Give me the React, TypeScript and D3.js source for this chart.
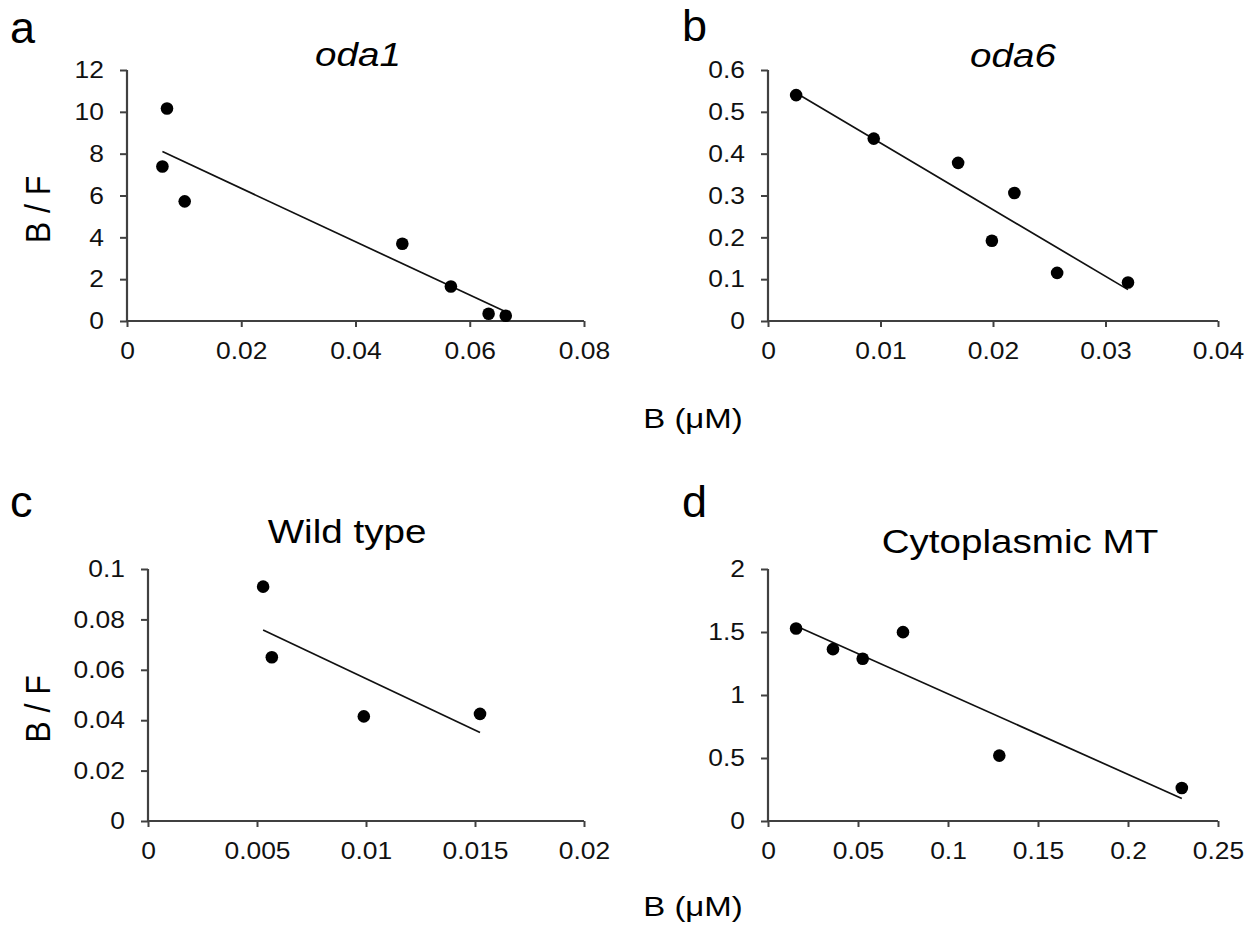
import React, { useEffect, useRef } from 'react';
import * as d3 from 'd3';

// panel a: oda1
const aX = [0.0062, 0.0070, 0.0101, 0.0482, 0.0567, 0.0633, 0.0663];
const aY = [7.39, 10.16, 5.72, 3.69, 1.65, 0.35, 0.25];
const aFit = [[0.0062, 8.1], [0.0662, 0.45]];
const aXTicks = [0, 0.02, 0.04, 0.06, 0.08];
const aYTicks = [0, 2, 4, 6, 8, 10, 12];

// panel b: oda6
const bX = [0.0025, 0.0094, 0.0169, 0.0219, 0.0199, 0.0257, 0.0320];
const bY = [0.540, 0.436, 0.378, 0.306, 0.192, 0.115, 0.092];
const bFit = [[0.0025, 0.545], [0.0320, 0.075]];
const bXTicks = [0, 0.01, 0.02, 0.03, 0.04];
const bYTicks = [0, 0.1, 0.2, 0.3, 0.4, 0.5, 0.6];

// panel c: wild type
const cX = [0.00528, 0.00568, 0.0099, 0.01523];
const cY = [0.093, 0.065, 0.0415, 0.0425];
const cFit = [[0.00528, 0.0758], [0.01523, 0.0351]];
const cXTicks = [0, 0.005, 0.01, 0.015, 0.02];
const cYTicks = [0, 0.02, 0.04, 0.06, 0.08, 0.1];

// panel d: cytoplasmic MT
const dX = [0.0156, 0.0361, 0.0526, 0.0750, 0.1285, 0.2299];
const dY = [1.528, 1.364, 1.288, 1.499, 0.519, 0.262];
const dFit = [[0.0156, 1.548], [0.2299, 0.179]];
const dXTicks = [0, 0.05, 0.1, 0.15, 0.2, 0.25];
const dYTicks = [0, 0.5, 1, 1.5, 2];

const FONT = 'Liberation Sans, Arial, sans-serif';
const AXIS_COLOR = '#404040';

interface PanelSpec {
  letter: string;
  letterX: number;
  letterY: number;
  title: string;
  italic: boolean;
  titleX: number;
  titleY: number;
  left: number;
  right: number;
  top: number;
  bottom: number;
  xs: number[];
  ys: number[];
  fit: number[][];
  xTicks: number[];
  yTicks: number[];
  yLabel: boolean;
  yLabelX: number;
}

const panels: PanelSpec[] = [
  { letter: 'a', letterX: 10, letterY: 43, title: 'oda1', italic: true, titleX: 358, titleY: 66,
    left: 127, right: 584, top: 70, bottom: 321, xs: aX, ys: aY, fit: aFit, xTicks: aXTicks, yTicks: aYTicks,
    yLabel: true, yLabelX: 50 },
  { letter: 'b', letterX: 682, letterY: 41, title: 'oda6', italic: true, titleX: 1013, titleY: 67,
    left: 768, right: 1218, top: 70, bottom: 321, xs: bX, ys: bY, fit: bFit, xTicks: bXTicks, yTicks: bYTicks,
    yLabel: false, yLabelX: 0 },
  { letter: 'c', letterX: 10, letterY: 517, title: 'Wild type', italic: false, titleX: 347, titleY: 543,
    left: 148, right: 584, top: 569, bottom: 821, xs: cX, ys: cY, fit: cFit, xTicks: cXTicks, yTicks: cYTicks,
    yLabel: true, yLabelX: 50 },
  { letter: 'd', letterX: 682, letterY: 517, title: 'Cytoplasmic MT', italic: false, titleX: 1020, titleY: 553,
    left: 768, right: 1218, top: 569, bottom: 821, xs: dX, ys: dY, fit: dFit, xTicks: dXTicks, yTicks: dYTicks,
    yLabel: false, yLabelX: 0 },
];

const fmt = (v: number) => String(+v.toFixed(4));

function drawPanel(svg: d3.Selection<SVGSVGElement, unknown, null, undefined>, p: PanelSpec) {
  const x = d3.scaleLinear()
    .domain([p.xTicks[0], p.xTicks[p.xTicks.length - 1]])
    .range([p.left, p.right]);
  const y = d3.scaleLinear()
    .domain([p.yTicks[0], p.yTicks[p.yTicks.length - 1]])
    .range([p.bottom, p.top]);

  const g = svg.append('g');

  // axes
  const yAxis = g.append('g')
    .attr('transform', `translate(${p.left},0)`)
    .call(d3.axisLeft(y).tickValues(p.yTicks).tickFormat(d => fmt(+d)).tickSize(7).tickPadding(14));
  const xAxis = g.append('g')
    .attr('transform', `translate(0,${p.bottom})`)
    .call(d3.axisBottom(x).tickValues(p.xTicks).tickFormat(d => fmt(+d)).tickSize(6).tickPadding(15));

  [yAxis, xAxis].forEach(ax => {
    ax.select('.domain').attr('stroke', AXIS_COLOR).attr('stroke-width', 2.2);
    ax.selectAll('.tick line').attr('stroke', AXIS_COLOR).attr('stroke-width', 2);
    ax.selectAll('.tick text')
      .attr('fill', '#111')
      .style('font-family', FONT)
      .style('font-size', '24px');
  });
  // plain axis lines, no outer end caps
  yAxis.select('.domain').attr('d', `M0,${p.bottom}V${p.top}`);
  xAxis.select('.domain').attr('d', `M${p.left},0H${p.right}`);
  xAxis.selectAll('.tick text').attr('transform', 'scale(1.1,1)');
  yAxis.selectAll('.tick text').attr('transform', 'scale(1.1,1)');

  // trend line
  g.append('path')
    .attr('d', d3.line<number[]>().x(d => x(d[0])).y(d => y(d[1]))(p.fit) || '')
    .attr('fill', 'none')
    .attr('stroke', '#111')
    .attr('stroke-width', 1.7);

  // points
  g.selectAll('circle.pt')
    .data(p.xs.map((v, i) => [v, p.ys[i]]))
    .enter().append('circle')
    .attr('class', 'pt')
    .attr('cx', d => x(d[0]))
    .attr('cy', d => y(d[1]))
    .attr('r', 6.3)
    .attr('fill', '#000');

  // title
  g.append('text')
    .attr('transform', `translate(${p.titleX},${p.titleY}) scale(1.17,1)`)
    .attr('text-anchor', 'middle')
    .style('font-family', FONT)
    .style('font-size', '33px')
    .style('font-style', p.italic ? 'italic' : 'normal')
    .attr('fill', '#000')
    .text(p.title);

  // panel letter
  g.append('text')
    .attr('x', p.letterX)
    .attr('y', p.letterY)
    .style('font-family', FONT)
    .style('font-size', '45px')
    .attr('fill', '#000')
    .text(p.letter);

  if (p.yLabel) {
    g.append('text')
      .attr('transform', `translate(${p.yLabelX},${(p.top + p.bottom) / 2 + 14}) rotate(-90) scale(1,1.1)`)
      .attr('text-anchor', 'middle')
      .style('font-family', FONT)
      .style('font-size', '32px')
      .attr('fill', '#000')
      .text('B / F');
  }
}

export default function App() {
  const svgRef = useRef<SVGSVGElement>(null);

  useEffect(() => {
    if (!svgRef.current) return;
    const svg = d3.select(svgRef.current);
    svg.selectAll('*').remove();

    svg.append('rect').attr('width', 1258).attr('height', 940).attr('fill', '#fff');

    panels.forEach(p => drawPanel(svg, p));

    // shared x-axis labels
    [428, 916].forEach(yy => {
      svg.append('text')
        .attr('transform', `translate(693,${yy}) scale(1.22,1)`)
        .attr('text-anchor', 'middle')
        .style('font-family', FONT)
        .style('font-size', '27px')
        .attr('fill', '#000')
        .text('B (\u03BCM)');
    });
  }, []);

  return (
    <svg
      ref={svgRef}
      width={1258}
      height={940}
      style={{ position: 'absolute', left: 0, top: 0, display: 'block' }}
    />
  );
}
